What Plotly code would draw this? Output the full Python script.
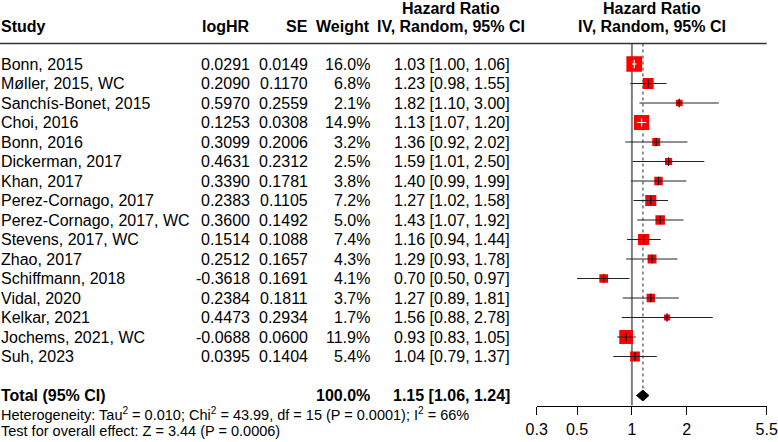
import math
import plotly.graph_objects as go

# ---------------- data ----------------
studies = ["Bonn, 2015", "Møller, 2015, WC", "Sanchís-Bonet, 2015", "Choi, 2016", "Bonn, 2016",
           "Dickerman, 2017", "Khan, 2017", "Perez-Cornago, 2017", "Perez-Cornago, 2017, WC",
           "Stevens, 2017, WC", "Zhao, 2017", "Schiffmann, 2018", "Vidal, 2020", "Kelkar, 2021",
           "Jochems, 2021, WC", "Suh, 2023"]
log_hr = [0.0291, 0.2090, 0.5970, 0.1253, 0.3099, 0.4631, 0.3390, 0.2383, 0.3600,
          0.1514, 0.2512, -0.3618, 0.2384, 0.4473, -0.0688, 0.0395]
se = [0.0149, 0.1170, 0.2559, 0.0308, 0.2006, 0.2312, 0.1781, 0.1105, 0.1492,
      0.1088, 0.1657, 0.1691, 0.1811, 0.2934, 0.0600, 0.1404]
weight = [16.0, 6.8, 2.1, 14.9, 3.2, 2.5, 3.8, 7.2, 5.0, 7.4, 4.3, 4.1, 3.7, 1.7, 11.9, 5.4]
hr = [1.03, 1.23, 1.82, 1.13, 1.36, 1.59, 1.40, 1.27, 1.43, 1.16, 1.29, 0.70, 1.27, 1.56, 0.93, 1.04]
hr_lo = [1.00, 0.98, 1.10, 1.07, 0.92, 1.01, 0.99, 1.02, 1.07, 0.94, 0.93, 0.50, 0.89, 0.88, 0.83, 0.79]
hr_hi = [1.06, 1.55, 3.00, 1.20, 2.02, 2.50, 1.99, 1.58, 1.92, 1.44, 1.78, 0.97, 1.81, 2.78, 1.05, 1.37]

total_weight = 100.0
total_hr, total_lo, total_hi = 1.15, 1.06, 1.24
heterogeneity = "Heterogeneity: Tau<sup>2</sup> = 0.010; Chi<sup>2</sup> = 43.99, df = 15 (P = 0.0001); I<sup>2</sup> = 66%"
overall_test = "Test for overall effect: Z = 3.44 (P = 0.0006)"

tick_vals = [0.3, 0.5, 1, 2, 5.5]
tick_text = ["0.3", "0.5", "1", "2", "5.5"]

# ---------------- layout geometry ----------------
W, H = 778, 442
Y0, DY = 64.0, 19.5          # pixel centre of first row, row spacing
AX_L, AX_R = 536.7, 766.7    # forest axis pixel extent
AX_Y = 405.5                 # forest axis line pixel y
LINE_Y = 43.5                # header rule pixel y
FONT = "Liberation Sans, Arial, sans-serif"

def row_of(px):
    return (px - Y0) / DY

n = len(studies)
rows = list(range(n))
total_row = n + 1

fig = go.Figure()

# vertical line at HR = 1
fig.add_trace(go.Scatter(x=[1, 1], y=[row_of(LINE_Y), row_of(AX_Y)], mode="lines",
                         line=dict(color="#7f7f7f", width=2), hoverinfo="skip"))
# dotted line at pooled estimate
dia_h = 5.4 / DY
fig.add_trace(go.Scatter(x=[total_hr, total_hr], y=[row_of(LINE_Y), total_row - dia_h], mode="lines",
                         line=dict(color="#707070", width=1.5, dash="dot"), hoverinfo="skip"))

# squares
sizes = [1.6 + 3.53 * math.sqrt(w) for w in weight]
fig.add_trace(go.Scatter(x=hr, y=rows, mode="markers",
                         marker=dict(symbol="square", size=sizes, color="#ff0000", opacity=1,
                                     line=dict(width=0)),
                         hoverinfo="skip"))

# CI lines (white when CI lies inside the square)
px_per_ln = (AX_R - AX_L) / (math.log(5.5) - math.log(0.3))
bx, by, wx, wy, tbx, tby, twx, twy = [], [], [], [], [], [], [], []
for i in range(n):
    inside = (math.log(hr_hi[i]) - math.log(hr_lo[i])) * px_per_ln < sizes[i]
    if inside:
        wx += [hr_lo[i], hr_hi[i], None]; wy += [i, i, None]
        twx.append(hr[i]); twy.append(i)
    else:
        bx += [hr_lo[i], hr_hi[i], None]; by += [i, i, None]
        tbx.append(hr[i]); tby.append(i)
fig.add_trace(go.Scatter(x=bx, y=by, mode="lines", line=dict(color="#222222", width=1), hoverinfo="skip"))
fig.add_trace(go.Scatter(x=wx, y=wy, mode="lines", line=dict(color="white", width=1), hoverinfo="skip"))
fig.add_trace(go.Scatter(x=tbx, y=tby, mode="markers",
                         marker=dict(symbol="line-ns", size=6, line=dict(color="#111111", width=1.2)),
                         hoverinfo="skip"))
fig.add_trace(go.Scatter(x=twx, y=twy, mode="markers",
                         marker=dict(symbol="line-ns", size=6, line=dict(color="white", width=1.2)),
                         hoverinfo="skip"))

# diamond for pooled estimate
fig.add_trace(go.Scatter(x=[total_lo, total_hr, total_hi, total_hr, total_lo],
                         y=[total_row, total_row - dia_h, total_row, total_row + dia_h, total_row],
                         mode="lines", fill="toself", fillcolor="black",
                         line=dict(color="black", width=1), hoverinfo="skip"))

# ---------------- text ----------------
anns = []
def ann(xpx, row, text, anchor, bold=False, size=16):
    if bold:
        text = "<b>" + text + "</b>"
    anns.append(dict(x=xpx / W, xref="paper", y=row, yref="y", text=text, showarrow=False,
                     xanchor=anchor, yanchor="middle", borderpad=0,
                     font=dict(family=FONT, size=size, color="black")))

X_STUDY, X_LOG, X_SE, X_W, X_HR = 0, 251, 308.5, 370.5, 511
hdr2 = row_of(26.5)
hdr1 = row_of(8.5)
ann(X_STUDY, hdr2, "Study", "left", True)
ann(X_LOG, hdr2, "logHR", "right", True)
ann(X_SE, hdr2, "SE", "right", True)
ann(X_W, hdr2, "Weight", "right", True)
ann(451, hdr1, "Hazard Ratio", "center", True)
ann(451, hdr2, "IV, Random, 95% CI", "center", True)
ann((AX_L + AX_R) / 2, hdr1, "Hazard Ratio", "center", True)
ann((AX_L + AX_R) / 2, hdr2, "IV, Random, 95% CI", "center", True)

for i in range(n):
    ann(X_STUDY, i, studies[i], "left")
    ann(X_LOG, i, f"{log_hr[i]:.4f}", "right")
    ann(X_SE, i, f"{se[i]:.4f}", "right")
    ann(X_W, i, f"{weight[i]:.1f}%", "right")
    ann(X_HR, i, f"{hr[i]:.2f} [{hr_lo[i]:.2f}, {hr_hi[i]:.2f}]", "right")

ann(X_STUDY, total_row, "Total (95% CI)", "left", True)
ann(X_W, total_row, f"{total_weight:.1f}%", "right", True)
ann(X_HR, total_row, f"{total_hr:.2f} [{total_lo:.2f}, {total_hi:.2f}]", "right", True)
ann(X_STUDY, row_of(414), heterogeneity, "left", size=14.5)
ann(X_STUDY, row_of(431), overall_test, "left", size=14.5)

fig.update_layout(
    width=W, height=H, margin=dict(l=0, r=0, t=0, b=0, pad=0, autoexpand=False),
    paper_bgcolor="white", plot_bgcolor="white", showlegend=False,
    annotations=anns,
    shapes=[dict(type="line", xref="paper", yref="y", x0=0, x1=AX_R / W,
                 y0=row_of(LINE_Y), y1=row_of(LINE_Y), line=dict(color="#333333", width=1.5))],
    xaxis=dict(type="log", domain=[AX_L / W, AX_R / W],
               range=[math.log10(0.3), math.log10(5.5)],
               anchor="free", position=1 - AX_Y / H,
               showline=True, linecolor="black", linewidth=1.2,
               ticks="outside", ticklen=8, tickwidth=1.2, tickcolor="black",
               tickvals=tick_vals, ticktext=tick_text, showgrid=False, zeroline=False,
               ticklabelstandoff=1,
               tickfont=dict(family=FONT, size=16, color="black")),
    yaxis=dict(range=[(H - Y0) / DY, -Y0 / DY], domain=[0, 1], visible=False,
               showgrid=False, zeroline=False),
)

fig.write_html("out.html")
